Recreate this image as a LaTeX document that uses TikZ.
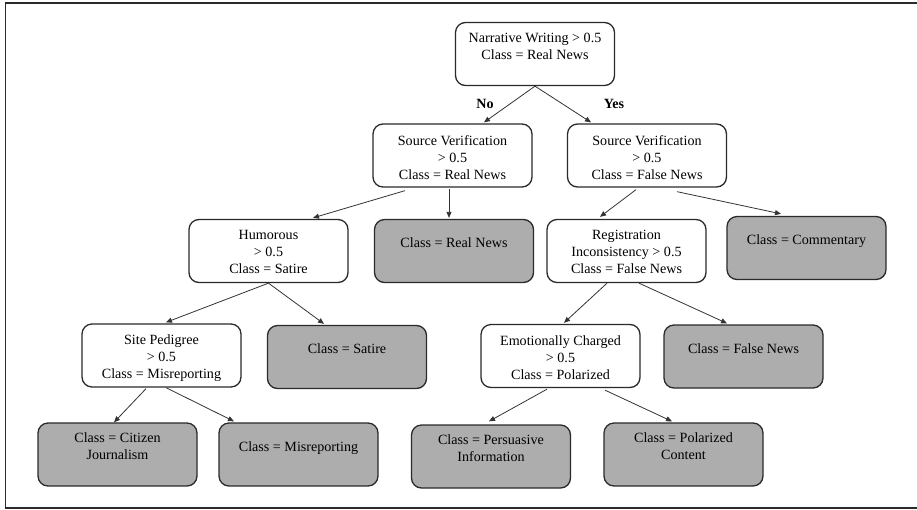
\documentclass[tikz,border=0pt]{standalone}
\usepackage{fontspec}
\setmainfont{Liberation Serif}
\usetikzlibrary{arrows.meta,calc}
\definecolor{boxline}{HTML}{2A2A2A}
\definecolor{boxgray}{HTML}{ADADAD}
\definecolor{arrline}{HTML}{333333}
\definecolor{frameline}{HTML}{2A2A2A}
\begin{document}
\begin{tikzpicture}[x=1pt,y=-1pt,
  box/.style={draw=boxline, line width=1.3pt, rounded corners=10pt, minimum width=159pt, minimum height=63pt, inner sep=0pt},
  wbox/.style={box, fill=white},
  gbox/.style={box, fill=boxgray},
  txt/.style={anchor=north, inner sep=0pt, align=center, font=\fontsize{14.1}{17}\selectfont},
  arr/.style={draw=arrline, line width=0.8pt, -{Triangle[length=6pt,width=5pt]}},
  lab/.style={font=\fontsize{14.1}{17}\selectfont\bfseries, inner sep=0pt}]
\useasboundingbox (0,0) rectangle (917,509);
% frame
\coordinate (ftl) at (5.5,3);
\coordinate (ftr) at (917,3);
\coordinate (fbl) at (5.5,508);
\coordinate (fbr) at (917,508);
\draw[frameline, line width=1.5pt] (ftr) -- (ftl) -- (fbl) -- (fbr);

% boxes
\node[wbox] (root) at (535,54) {};
\node[wbox] (svl) at (452.5,155.5) {};
\node[wbox] (svr) at (647,155.5) {};
\node[wbox] (hum) at (268.5,251) {};
\node[gbox] (rn) at (454,251) {};
\node[wbox] (reg) at (626.5,251) {};
\node[gbox] (com) at (806.5,248) {};
\node[wbox] (sp) at (161.5,355.5) {};
\node[gbox] (sat) at (347,357) {};
\node[wbox] (emo) at (560.5,356) {};
\node[gbox] (fn) at (743.5,356.5) {};
\node[gbox] (cit) at (117.5,454.5) {};
\node[gbox] (mis) at (298.5,454.5) {};
\node[gbox] (per) at (491,456.5) {};
\node[gbox] (pol) at (683.5,454.5) {};

% texts
\node[txt] (rootT) at (535,33) {Narrative Writing > 0.5\\Class = Real News};
\node[txt] (svlT) at (452.5,135) {Source Verification\\> 0.5\\Class = Real News};
\node[txt] (svrT) at (647,135) {Source Verification\\> 0.5\\Class = False News};
\node[txt] (humT) at (268.5,230) {Humorous\\> 0.5\\Class = Satire};
\node[txt] (rnT) at (454,238) {Class = Real News};
\node[txt] (regT) at (626.5,230) {Registration\\Inconsistency > 0.5\\Class = False News};
\node[txt] (comT) at (806.5,235) {Class = Commentary};
\node[txt] (spT) at (161.5,335) {Site Pedigree\\> 0.5\\Class = Misreporting};
\node[txt] (satT) at (347,344) {Class = Satire};
\node[txt] (emoT) at (560.5,336) {Emotionally Charged\\> 0.5\\Class = Polarized};
\node[txt] (fnT) at (743.5,344) {Class = False News};
\node[txt] (citT) at (117.5,433) {Class = Citizen\\Journalism};
\node[txt] (misT) at (298.5,442) {Class = Misreporting};
\node[txt] (perT) at (491,435) {Class = Persuasive\\Information};
\node[txt] (polT) at (683.5,433) {Class = Polarized\\Content};

% labels
\node[lab] (no) at (485,104) {No};
\node[lab] (yes) at (614,104) {Yes};

% connectors
\draw[arr] (root.south) -- ([xshift=31.5pt,yshift=1pt]svl.north);
\draw[arr] (root.south) -- ([xshift=-56pt,yshift=1pt]svr.north);
\draw[arr] ([xshift=-47.5pt,yshift=-3pt]svl.south) -- ([xshift=44.5pt,yshift=1pt]hum.north);
\draw[arr] ([xshift=-3.5pt,yshift=-1pt]svl.south) -- ([xshift=-5pt,yshift=1pt]rn.north);
\draw[arr] ([xshift=-11pt,yshift=-2pt]svr.south) -- ([xshift=-26.5pt,yshift=2pt]reg.north);
\draw[arr] ([xshift=30pt,yshift=-4pt]svr.south) -- ([xshift=-25.5pt,yshift=2pt]com.north);
\draw[arr] (hum.south) -- ([xshift=4.5pt,yshift=1pt]sp.north);
\draw[arr] (hum.south) -- ([xshift=-23pt,yshift=1pt]sat.north);
\draw[arr] ([xshift=-15.5pt,yshift=-1pt]sp.south) -- ([xshift=-3.5pt]cit.north);
\draw[arr] ([xshift=4.5pt]sp.south) -- ([xshift=-64.5pt,yshift=1pt]mis.north);
\draw[arr] ([xshift=-19.5pt]reg.south) -- ([xshift=3.5pt,yshift=1pt]emo.north);
\draw[arr] ([xshift=12.5pt]reg.south) -- ([xshift=-16.5pt,yshift=1pt]fn.north);
\draw[arr] ([xshift=-13.5pt,yshift=-1pt]emo.south) -- ([xshift=-2pt,yshift=3pt]per.north);
\draw[arr] ([xshift=44.5pt,yshift=-2pt]emo.south) -- ([xshift=-11.5pt,yshift=1pt]pol.north);
\end{tikzpicture}
\end{document}
